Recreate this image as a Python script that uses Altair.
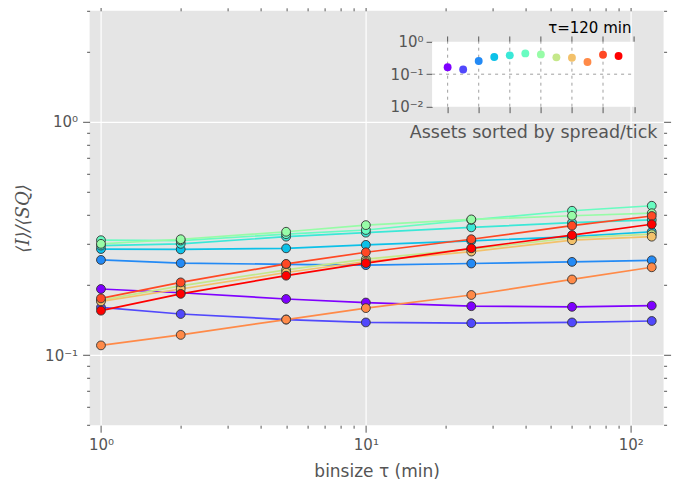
import altair as alt
import pandas as pd

# ---- data ----
taus = [1, 2, 5, 10, 25, 60, 120]
asset_names = ["A01", "A02", "A03", "A04", "A05", "A06", "A07", "A08", "A09", "A10", "A11", "A12"]
asset_colors = ["#7f00ff", "#5148fc", "#238af5", "#0cc1e8", "#3ae8d7", "#68fcc1",
                "#97fca7", "#c5e88a", "#f3c16a", "#ff8a48", "#ff4824", "#ff0000"]
s00 = [0.192, 0.185, 0.174, 0.168, 0.162, 0.161, 0.163]
s01 = [0.160, 0.150, 0.142, 0.138, 0.137, 0.138, 0.140]
s02 = [0.256, 0.248, 0.245, 0.243, 0.247, 0.251, 0.255]
s03 = [0.285, 0.284, 0.287, 0.297, 0.309, 0.322, 0.338]
s04 = [0.295, 0.300, 0.322, 0.335, 0.353, 0.370, 0.380]
s05 = [0.311, 0.310, 0.330, 0.344, 0.380, 0.416, 0.437]
s06 = [0.300, 0.314, 0.338, 0.361, 0.382, 0.396, 0.406]
s07 = [0.172, 0.198, 0.232, 0.258, 0.285, 0.318, 0.330]
s08 = [0.170, 0.192, 0.226, 0.252, 0.278, 0.311, 0.322]
s09 = [0.110, 0.122, 0.142, 0.159, 0.181, 0.211, 0.238]
s10 = [0.175, 0.205, 0.246, 0.276, 0.314, 0.359, 0.395]
s11 = [0.155, 0.183, 0.219, 0.248, 0.287, 0.327, 0.364]
series = [s00, s01, s02, s03, s04, s05, s06, s07, s08, s09, s10, s11]

x_minor = [1, 2, 3, 4, 5, 6, 7, 8, 9, 10, 20, 30, 40, 50, 60, 70, 80, 90, 100]
y_minor = [0.05, 0.06, 0.07, 0.08, 0.09, 0.1, 0.2, 0.3, 0.4, 0.5, 0.6, 0.7, 0.8, 0.9, 1, 2, 3]
inset_xticks = [0, 2, 4, 6, 8, 10, 12]
inset_vgrid = [0, 2, 4, 6, 8, 10]
inset_yticks = [0.01, 0.1, 1]

rows = []
for k, (name, vals) in enumerate(zip(asset_names, series)):
    for t, v in zip(taus, vals):
        rows.append({"tau": t, "val": v, "asset": name, "k": k})
df = pd.DataFrame(rows)

inset_df = pd.DataFrame({"idx": list(range(len(asset_names))),
                         "val": [s[-1] for s in series],
                         "asset": asset_names})

# ---- geometry ----
W, H = 574, 414.4
IX0, IX1 = 342.5, 544.5
IY0, IY1 = 95.9, 30.9
GRAY = "#555555"
XMAJ = "datum.value == 1 || datum.value == 10 || datum.value == 100"
YMAJ = "datum.value == 1 || datum.value == 0.1"

color_scale = alt.Scale(domain=asset_names, range=asset_colors)

xscale = alt.Scale(type="log", domain=[0.906, 133], nice=False)
yscale = alt.Scale(type="log", domain=[0.05, 3.0], nice=False)

xaxis = alt.Axis(
    values=x_minor,
    labelExpr="datum.value == 1 ? '10⁰' : datum.value == 10 ? '10¹' : datum.value == 100 ? '10²' : ''",
    tickSize={"condition": {"test": XMAJ, "value": 7}, "value": 3},
    gridOpacity={"condition": {"test": XMAJ, "value": 1}, "value": 0},
    grid=True, gridColor="white", gridWidth=1.2,
    domain=False, tickColor=GRAY, labelColor=GRAY, labelFontSize=15,
    labelFont="DejaVu Sans", labelOverlap=False, labelFlush=False, labelPadding=5,
    title="binsize τ (min)", titleFont="DejaVu Sans", titleFontSize=17,
    titleFontWeight="normal", titleColor=GRAY, titlePadding=11,
)
yaxis = alt.Axis(
    values=y_minor,
    labelExpr="datum.value == 1 ? '10⁰' : datum.value == 0.1 ? '10⁻¹' : ''",
    tickSize={"condition": {"test": YMAJ, "value": 7}, "value": 3},
    gridOpacity={"condition": {"test": YMAJ, "value": 1}, "value": 0},
    grid=True, gridColor="white", gridWidth=1.2,
    domain=False, tickColor=GRAY, labelColor=GRAY, labelFontSize=15,
    labelFont="DejaVu Sans", labelOverlap=False, labelFlush=False, labelPadding=5,
    title="⟨I⟩/⟨SQ⟩", titleFont="DejaVu Serif", titleFontStyle="italic",
    titleFontSize=18, titleFontWeight="normal", titleColor=GRAY, titlePadding=12,
)

base = alt.Chart(df).encode(
    x=alt.X("tau:Q", scale=xscale, axis=xaxis),
    y=alt.Y("val:Q", scale=yscale, axis=yaxis),
    color=alt.Color("asset:N", scale=color_scale, legend=None),
)
lines = base.mark_line(strokeWidth=1.7)
points = base.mark_circle(size=78, opacity=1, stroke="#333333", strokeWidth=0.9)
main = alt.layer(lines, points)

# ---- mirrored ticks (top / right) ----
mirror = alt.Chart(df).mark_point(opacity=0).encode(
    x=alt.X("tau:Q", scale=xscale, axis=alt.Axis(
        orient="top", values=x_minor, labels=False, grid=False, domain=False, title=None,
        tickColor=GRAY, tickSize={"condition": {"test": XMAJ, "value": 7}, "value": 3})),
    y=alt.Y("val:Q", scale=yscale, axis=alt.Axis(
        orient="right", values=y_minor, labels=False, grid=False, domain=False, title=None,
        tickColor=GRAY, tickSize={"condition": {"test": YMAJ, "value": 7}, "value": 3})),
)

# ---- inset ----
ixs = alt.Scale(domain=[-1, 12], range=[IX0, IX1], nice=False, zero=False)
iys = alt.Scale(type="log", domain=[0.01, 1], range=[IY0, IY1], nice=False)

ix_axis = alt.Axis(
    orient="bottom", offset=-(H - IY0), values=inset_xticks, labels=False,
    tickSize=6, tickColor=GRAY, domain=False, grid=False,
    title="Assets sorted by spread/tick", titleFont="DejaVu Sans", titleFontSize=17.5,
    titleFontWeight="normal", titleColor=GRAY, titlePadding=10)
iy_axis = alt.Axis(
    orient="left", offset=-IX0, values=inset_yticks,
    labelExpr="datum.value == 1 ? '10⁰' : datum.value == 0.1 ? '10⁻¹' : '10⁻²'",
    tickSize=6, tickColor=GRAY, domain=False, grid=False, labelColor=GRAY,
    labelFontSize=15, labelFont="DejaVu Sans", labelOverlap=False, labelFlush=False,
    labelPadding=3, title=None)

bg_df = pd.DataFrame({"x": [-1], "x2": [12], "y": [0.01], "y2": [1]})
bg = alt.Chart(bg_df).mark_rect(fill="white").encode(
    x=alt.X("x:Q", scale=ixs, axis=ix_axis), x2="x2:Q",
    y=alt.Y("y:Q", scale=iys, axis=iy_axis), y2="y2:Q",
)
vg_df = pd.DataFrame({"x": inset_vgrid, "y": [0.01] * len(inset_vgrid), "y2": [1] * len(inset_vgrid)})
vgrid = alt.Chart(vg_df).mark_rule(color="#888888", strokeDash=[3, 4], strokeWidth=0.8).encode(
    x=alt.X("x:Q", scale=ixs, axis=ix_axis), y=alt.Y("y:Q", scale=iys, axis=iy_axis), y2="y2:Q")
hg_df = pd.DataFrame({"x": [-1], "x2": [12], "y": [0.1]})
hgrid = alt.Chart(hg_df).mark_rule(color="#888888", strokeDash=[3, 4], strokeWidth=0.8).encode(
    x=alt.X("x:Q", scale=ixs, axis=ix_axis), x2="x2:Q", y=alt.Y("y:Q", scale=iys, axis=iy_axis))
tt_df = pd.DataFrame({"x": inset_xticks, "y": [1] * len(inset_xticks), "y2": [1.45] * len(inset_xticks)})
topticks = alt.Chart(tt_df).mark_rule(color=GRAY, strokeWidth=1).encode(
    x=alt.X("x:Q", scale=ixs, axis=ix_axis), y=alt.Y("y:Q", scale=iys, axis=iy_axis), y2="y2:Q")
ipts = alt.Chart(inset_df).mark_circle(size=62, opacity=1).encode(
    x=alt.X("idx:Q", scale=ixs, axis=ix_axis),
    y=alt.Y("val:Q", scale=iys, axis=iy_axis),
    color=alt.Color("asset:N", scale=color_scale, legend=None),
)
lbl_df = pd.DataFrame({"x": [9.15], "y": [2.6], "t": ["τ=120 min"]})
ilabel = alt.Chart(lbl_df).mark_text(fontSize=15, font="DejaVu Sans", color="black",
                                     baseline="middle", align="center").encode(
    x=alt.X("x:Q", scale=ixs, axis=ix_axis), y=alt.Y("y:Q", scale=iys, axis=iy_axis), text="t:N")

inset = alt.layer(bg, vgrid, hgrid, topticks, ipts, ilabel)

chart = alt.layer(main, mirror, inset).resolve_scale(x="independent", y="independent").properties(
    width=W, height=H,
    autosize=alt.AutoSizeParams(type="none"),
    padding={"left": 81.6, "top": 2.8, "right": 8, "bottom": 55},
    background="white",
).configure_view(fill="#e5e5e5", stroke=None)

chart.save("out.html", embed_options={"renderer": "svg", "actions": False})
